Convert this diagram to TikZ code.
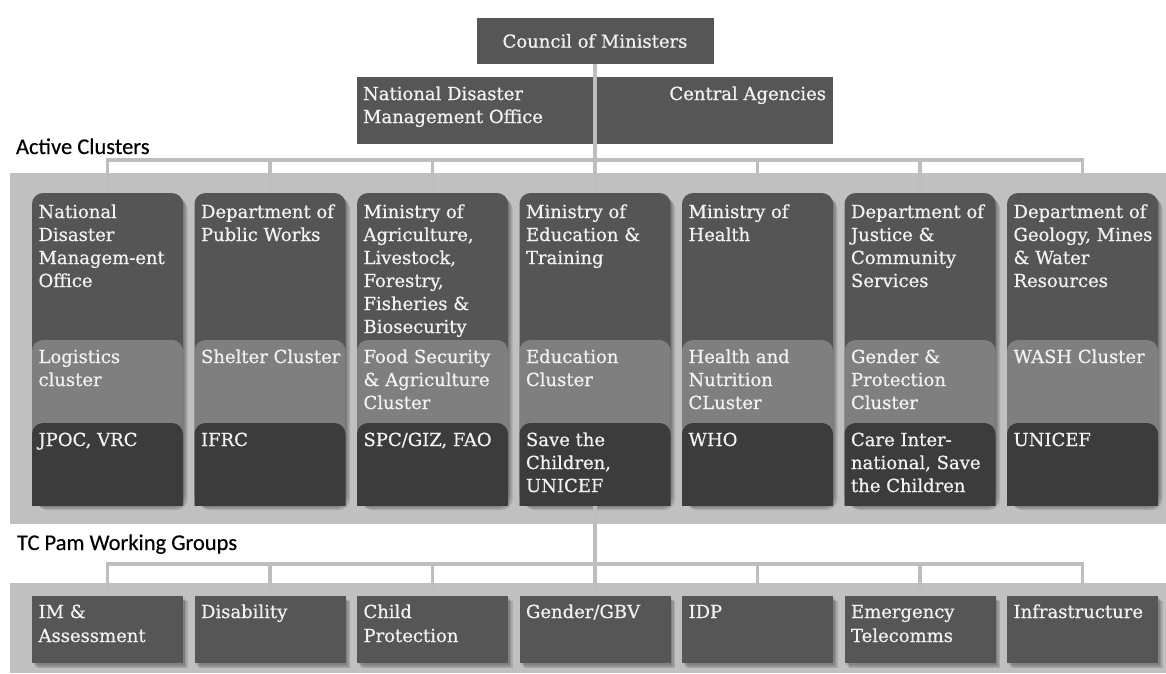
\documentclass[tikz,border=0pt]{standalone}
\usepackage{fontspec}
\setmainfont{DejaVu Serif}[FakeBold=0.6]
\newfontfamily\headfont{Carlito}[FakeBold=0.3]
\usetikzlibrary{shadows}

\definecolor{boxGray}{HTML}{565656}
\definecolor{colTop}{HTML}{555555}
\definecolor{colMid}{HTML}{7F7F7F}
\definecolor{colLow}{HTML}{3C3C3C}
\definecolor{bandGray}{HTML}{C0C0C0}
\definecolor{lineGray}{HTML}{BEBEBE}
\definecolor{paleText}{HTML}{F2F2F2}

% one cluster column: index, agency text, cluster text, partner text
\newcommand\clustercol[4]{%
  \pgfmathsetmacro\colL{32+162.5*(#1-1)}%
  \pgfmathsetmacro\colR{\colL+151}%
  \begin{scope}
    \clip (\colL,193) rectangle (\colR,505);
    \fill[colMid,rounded corners=11pt] (\colL,340) rectangle (\colR,540);
    \fill[colLow,rounded corners=11pt] (\colL,423) rectangle (\colR,540);
  \end{scope}
  \node[wtext] (c#1a) at (\colL+6.5,218) {\begin{tabular}[t]{@{}l@{}}#2\end{tabular}};
  \node[wtext] (c#1b) at (\colL+6.5,363) {\begin{tabular}[t]{@{}l@{}}#3\end{tabular}};
  \node[wtext] (c#1c) at (\colL+6.5,446) {\begin{tabular}[t]{@{}l@{}}#4\end{tabular}};
}

% one working group label: index, text
\newcommand\grouptext[2]{%
  \pgfmathsetmacro\colL{32+162.5*(#1-1)}%
  \node[wtext,font=\fontsize{18}{24}\selectfont] (w#1t) at (\colL+6.5,618) {\begin{tabular}[t]{@{}l@{}}#2\end{tabular}};
}

\begin{document}
\begin{tikzpicture}[x=1pt,y=-1pt,
  every node/.style={inner sep=0pt,outer sep=0pt},
  softshadow/.style={
    general shadow={fill=black,opacity=0.12,shadow xshift=1.5pt,shadow yshift=-2pt},
    general shadow={fill=black,opacity=0.12,shadow xshift=3pt,shadow yshift=-3.5pt},
    general shadow={fill=black,opacity=0.12,shadow xshift=4.5pt,shadow yshift=-5pt}},
  wtext/.style={anchor=base west,text=paleText,font=\fontsize{18}{23}\selectfont},
  head/.style={anchor=base west,text=black,font=\headfont\fontsize{22.5}{26}\selectfont},
  topbox/.style={fill=boxGray,text=paleText,font=\fontsize{18}{23}\selectfont},
  colframe/.style={anchor=north west,minimum width=151pt,minimum height=312pt,
    fill=colTop,rounded corners=11pt,softshadow},
  wgbox/.style={anchor=north west,minimum width=151pt,minimum height=67pt,
    fill=boxGray,softshadow},
  conn/.style={draw=lineGray,line width=3.5pt}]

\useasboundingbox (0,0) rectangle (1166,673);
\fill[white] (0,0) rectangle (1166,673);

% background bands
\fill[bandGray] (10,173) rectangle (1166,524);
\fill[bandGray] (10,583) rectangle (1166,673);

% section headings
\node[head] (hdrA) at (16,154) {Active Clusters};
\node[head] (hdrB) at (17,550) {TC Pam Working Groups};

% top level
\node[topbox,minimum width=237pt,minimum height=46pt] (council) at (595,41) {Council of Ministers};
\node[topbox,anchor=north west,minimum width=236.2pt,minimum height=67pt] (ndmo) at (357,77) {};
\node[topbox,anchor=north west,minimum width=236.2pt,minimum height=67pt] (central) at (596.8,77) {};
\node[wtext] (ndmoText) at (363,100) {\begin{tabular}[t]{@{}l@{}}National Disaster\\Management Office\end{tabular}};
\node[wtext,anchor=base east] (centralText) at (826,100) {Central Agencies};

% cluster columns and working group boxes
\foreach \i in {1,...,7} \node[colframe] (c\i) at ({32+162.5*(\i-1)},193) {};
\foreach \i in {1,...,7} \node[wgbox] (w\i) at ({32+162.5*(\i-1)},596) {};

% connectors
\coordinate (busA) at (0,160);
\coordinate (busB) at (0,564);
\foreach \i in {1,...,7} \draw[conn] (council.south) -- (council.south |- busA) -| (c\i.north);
\foreach \i in {1,...,7} \draw[conn] (c4.south) -- (c4.south |- busB) -| (w\i.north);

% column contents
\clustercol{1}{National\\Disaster\\Managem-ent\\Office}{Logistics\\cluster}{JPOC, VRC}
\clustercol{2}{Department of\\Public Works}{Shelter Cluster}{IFRC}
\clustercol{3}{Ministry of\\Agriculture,\\Livestock,\\Forestry,\\Fisheries \&\\Biosecurity}{Food Security\\\& Agriculture\\Cluster}{SPC/GIZ, FAO}
\clustercol{4}{Ministry of\\Education \&\\Training}{Education\\Cluster}{Save the\\Children,\\UNICEF}
\clustercol{5}{Ministry of\\Health}{Health and\\Nutrition\\CLuster}{WHO}
\clustercol{6}{Department of\\Justice \&\\Community\\Services}{Gender \&\\Protection\\Cluster}{Care Inter-\\national, Save\\the Children}
\clustercol{7}{Department of\\Geology, Mines\\\& Water\\Resources}{WASH Cluster}{UNICEF}

% working group labels
\grouptext{1}{IM \&\\Assessment}
\grouptext{2}{Disability}
\grouptext{3}{Child\\Protection}
\grouptext{4}{Gender/GBV}
\grouptext{5}{IDP}
\grouptext{6}{Emergency\\Telecomms}
\grouptext{7}{Infrastructure}

\end{tikzpicture}
\end{document}
